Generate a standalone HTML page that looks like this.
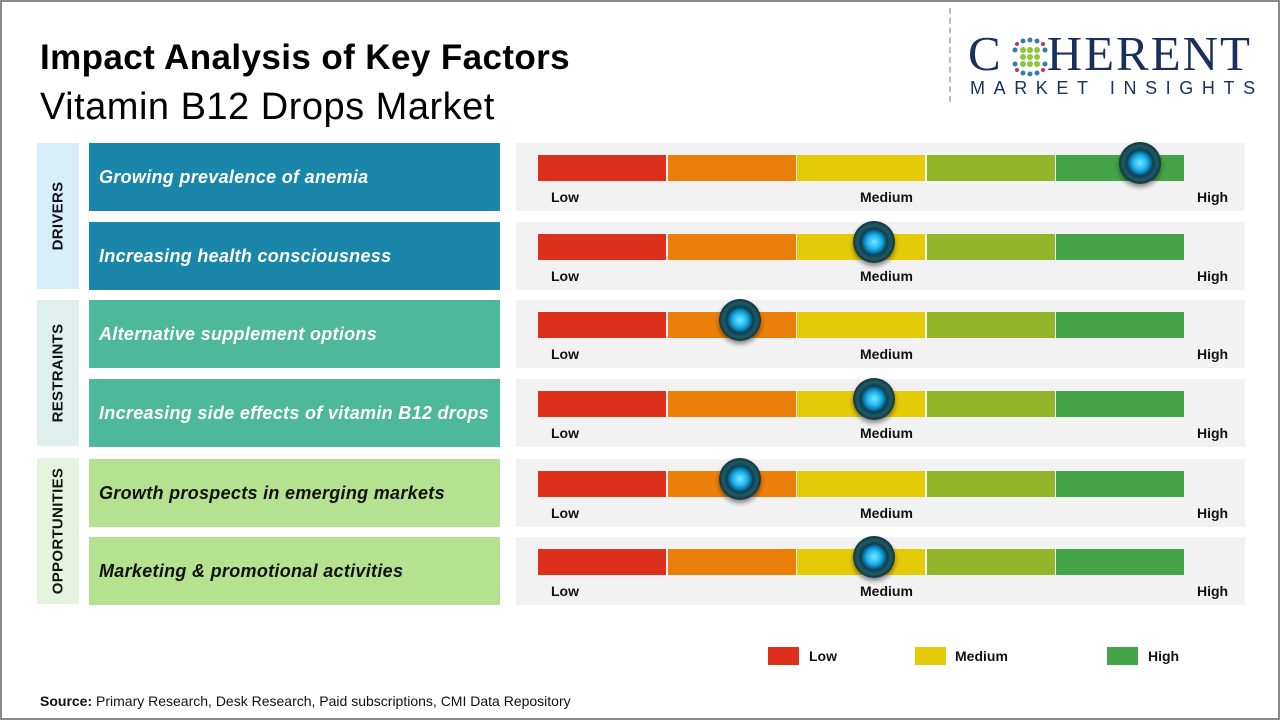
<!DOCTYPE html>
<html><head><meta charset="utf-8"><style>
*{margin:0;padding:0;box-sizing:border-box}
body{width:1280px;height:720px;position:relative;background:#fff;font-family:"Liberation Sans",sans-serif;overflow:hidden}
.a{position:absolute}
.frame{left:0;top:0;width:1280px;height:720px;border:2px solid #8a8a8a}
.cat{left:37px;width:42px;height:146px}
.cat span{position:absolute;left:50%;top:50%;transform:translate(-50%,-50%) rotate(-90deg);font-weight:bold;font-size:15px;color:#111;white-space:nowrap;letter-spacing:0.3px}
.lab{left:89px;width:411px;height:68px;font-style:italic;font-weight:bold;font-size:18px;padding-left:10px;display:flex;align-items:center;letter-spacing:0.3px}
.pan{left:516px;width:729px;height:68px;background:#f2f2f2}
.seg{position:absolute;top:12px;height:26px;width:128px}
.t{position:absolute;top:46px;font-weight:bold;font-size:14px;color:#111}
.knob{position:absolute;top:-1px;width:42px;height:42px;border-radius:50%;background:radial-gradient(circle at 50% 50%,#7ee8ff 0,#1cb4f0 7px,#0a6f9a 11px,#0d3f4f 13px,#1f5a66 17px,#12323a 21px);box-shadow:0 3px 5px rgba(0,0,0,.45)}
</style></head><body>
<div class="a frame"></div>
<div class="a" style="left:40px;top:38px;font-size:35px;font-weight:bold;color:#000;letter-spacing:0.4px">Impact Analysis of Key Factors</div>
<div class="a" style="left:40px;top:86px;font-size:38px;color:#000;letter-spacing:0.5px">Vitamin B12 Drops Market</div>
<div class="a" style="left:949px;top:8px;height:94px;border-left:2px dashed #bbb"></div>
<div class="a" style="left:968px;top:28px;font-family:'Liberation Serif',serif;font-size:49px;color:#1b2f5c;letter-spacing:2px;line-height:52px">C<span style="display:inline-block;width:44px"></span>HERENT</div>
<svg class="a" style="left:1009px;top:36px" width="42" height="42" viewBox="0 0 42 42">
<g fill="#3a7aa8"><circle cx="14" cy="5" r="2.5"/><circle cx="21" cy="4" r="2.5"/><circle cx="28" cy="5" r="2.5"/><circle cx="6" cy="14" r="2.5"/><circle cx="36" cy="14" r="2.5"/><circle cx="6" cy="28" r="2.5"/><circle cx="36" cy="28" r="2.5"/><circle cx="14" cy="37" r="2.5"/><circle cx="21" cy="38" r="2.5"/><circle cx="28" cy="37" r="2.5"/></g>
<g fill="#8cc63f"><circle cx="14" cy="14" r="3"/><circle cx="21" cy="14" r="3"/><circle cx="28" cy="14" r="3"/><circle cx="14" cy="21" r="3"/><circle cx="21" cy="21" r="3"/><circle cx="28" cy="21" r="3"/><circle cx="14" cy="28" r="3"/><circle cx="21" cy="28" r="3"/><circle cx="28" cy="28" r="3"/></g>
<g fill="#c0306a"><circle cx="8" cy="8" r="2"/><circle cx="34" cy="8" r="2"/><circle cx="8" cy="34" r="2"/><circle cx="34" cy="34" r="2"/></g></svg>
<div class="a" style="left:970px;top:78px;font-size:18px;color:#1b2f5c;letter-spacing:8.6px">MARKET INSIGHTS</div>

<div class="a cat" style="top:143px;background:#d6eef8"><span>DRIVERS</span></div>
<div class="a cat" style="top:300px;background:#deefec"><span>RESTRAINTS</span></div>
<div class="a cat" style="top:458px;background:#e6f4df"><span>OPPORTUNITIES</span></div>

<div class="a lab" style="top:143px;background:#1a87aa;color:#fff">Growing prevalence of anemia</div>
<div class="a lab" style="top:222px;background:#1a87aa;color:#fff">Increasing health consciousness</div>
<div class="a lab" style="top:300px;background:#4db89a;color:#fff">Alternative supplement options</div>
<div class="a lab" style="top:379px;background:#4db89a;color:#fff">Increasing side effects of vitamin B12 drops</div>
<div class="a lab" style="top:459px;background:#b5e290;color:#111">Growth prospects in emerging markets</div>
<div class="a lab" style="top:537px;background:#b5e290;color:#111">Marketing &amp; promotional activities</div>

<div id="pans"></div>
<script>
var tops=[143,222,300,379,459,537],kx=[1140,874,740,874,740,874];
var cols=['#dc2f1c','#ec7f0a','#e5ca08','#92b52a','#44a447'];
var h='';
for(var i=0;i<6;i++){
 h+='<div class="a pan" style="top:'+tops[i]+'px">';
 for(var j=0;j<5;j++)h+='<div class="seg" style="left:'+(22+j*129.6)+'px;background:'+cols[j]+'"></div>';
 h+='<div class="t" style="left:35px">Low</div><div class="t" style="left:344px">Medium</div><div class="t" style="left:681px">High</div>';
 h+='<div class="knob" style="left:'+(kx[i]-516-21)+'px"></div></div>';
}
document.getElementById('pans').innerHTML=h;
</script>

<div class="a" style="left:768px;top:647px;width:31px;height:18px;background:#dc2f1c"></div>
<div class="a" style="left:809px;top:648px;font-size:14px;font-weight:bold;color:#111">Low</div>
<div class="a" style="left:915px;top:647px;width:31px;height:18px;background:#e5ca08"></div>
<div class="a" style="left:955px;top:648px;font-size:14px;font-weight:bold;color:#111">Medium</div>
<div class="a" style="left:1107px;top:647px;width:31px;height:18px;background:#44a447"></div>
<div class="a" style="left:1148px;top:648px;font-size:14px;font-weight:bold;color:#111">High</div>

<div class="a" style="left:40px;top:693px;font-size:14px;color:#111"><b>Source:</b> Primary Research, Desk Research, Paid subscriptions, CMI Data Repository</div>
</body></html>
